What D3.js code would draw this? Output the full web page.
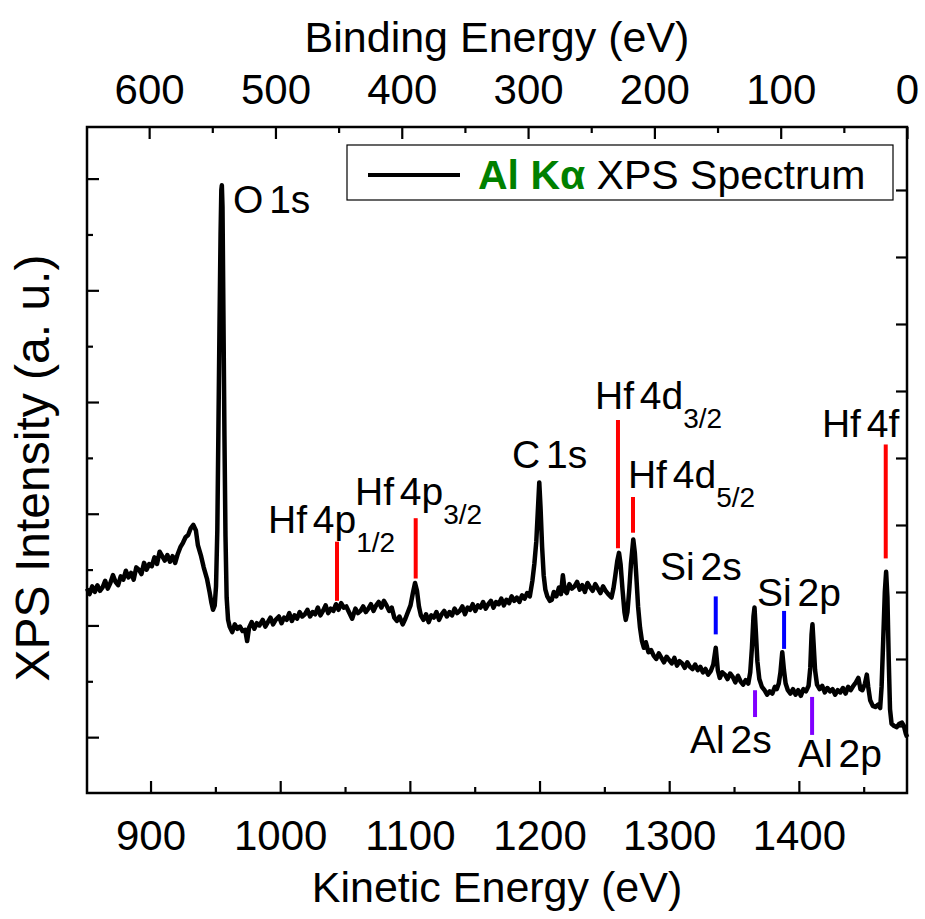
<!DOCTYPE html>
<html><head><meta charset="utf-8">
<script src="https://cdn.jsdelivr.net/npm/d3@7"></script>
<style>
body{margin:0;background:#fff}
text{font-family:"Liberation Sans",Arial,Helvetica,sans-serif;fill:#000}
</style>
</head><body>
<svg id="chart" width="925" height="919"></svg>
<script>
// ---- Data ----
const kineticEnergy = [
 851,853,855,857,859,861,863,865,867,869,871,873,875,877,879,881,883,885,887,889,891,893,895,897,899,901,903,905,907,909,911,913,915,917,919,921,923,925,927,929,931,933,935,
 936.5,939,941,943.5,945.5,947,948.2,949.5,950.5,951.5,952.3,953.2,954.0,954.6,955.0,955.5,956.2,957.0,957.8,958.7,959.8,
 961,963,965,967,969,971,973,974.5,976,978,980,982,984,986.5,988.5,990.5,992.5,994.5,996.5,999,1001,1003,1005,1007,1009,1011,1013,1015,1017,1019,1021,1023,1025,1027,1029,1031,1033,1035,1037,1039,1041,1043,1045,1047,1049,1051,1053,1055.5,1058,1060,1062,1064,1066,1068,1070,1072,1074,1076,1078,1080,1082,1084,1086,1088,1090,1092,1094.5,1096.5,1098.5,1100.5,1102.5,1104,1105.5,1107,1108.5,1110.5,1112.5,1114.5,1116.5,1118.5,1120.5,1122.5,1124.5,1126.5,1128.5,1130.5,1132.5,1134.5,1136.5,1138.5,1140.5,1142.5,1144.5,1146.5,1148.5,1150.5,1152.5,1154.5,1156.5,1158.5,1160.5,1162.5,1164.5,1166.5,1168.5,1170.5,1172.5,1174.5,1176.5,1178.5,1180.5,1182.5,1184.5,1186.5,1188.5,1190.5,1192.5,1194.5,1196,1197.5,1198.8,1199.8,1200.8,1202,1203.2,1204.5,1206,1208,1209.5,1211,1213,1215,1216.5,1218,1219.5,1221,1223,1225,1227,1229,1231,1233,1235,1237,1239,1241,1243,1245,1247,1249,1251,1253,1255.5,1257,1258.5,1260,1261.3,1262.5,1264,1265.5,1266.5,1267.8,1269.2,1270.5,1272.3,1273.5,1274.6,1276,1277.5,1279,1280.5,1282,1284,1286,1288,1290,1292,1294,1296,1298,1300,1302,1304,1306,1308,1310,1312,1314,1316,1318,1320,1322,1324,1326,1328,1330,1332,1334,1335.9,1337.5,1339,1341,1343,1345,1347,1349,1351,1353,1355,1357,1359,1361,1362.5,1363.8,1365,1365.8,1366.8,1368,1369.5,1371.5,1373.5,1375.5,1377.5,1379.5,1381.5,1383,1384.5,1385.8,1387.2,1388.5,1389.8,1391.5,1393.5,1395.5,1397.5,1399.5,1401.5,1403.5,1405.5,1407.5,1408.8,1409.8,1410.5,1411.3,1412.5,1414,1416,1418,1420,1422,1424,1426,1428,1430,1432,1434,1436,1438,1440,1442,1444,1445.9,1447.5,1449,1451,1452.4,1453.5,1455,1457,1459,1461,1462.7,1463.8,1465,1466.3,1467.3,1468.3,1469.3,1470.3,1471.5,1473.5,1475.5,1477.5,1479.5,1481,1482.5,1483.5
];
const intensity = [
 2.33,2.28,2.35,2.30,2.36,2.31,2.34,2.40,2.33,2.38,2.45,2.39,2.36,2.44,2.41,2.49,2.43,2.47,2.41,2.52,2.50,2.46,2.56,2.50,2.55,2.53,2.61,2.55,2.66,2.62,2.58,2.63,2.57,2.62,2.56,2.64,2.70,2.74,2.79,2.81,2.87,2.90,2.85,
 2.72,2.62,2.52,2.42,2.30,2.20,2.14,2.18,2.35,2.85,3.70,4.70,5.50,5.90,5.94,5.75,4.80,3.70,2.80,2.25,2.05,
 1.99,1.94,2.01,1.97,1.99,1.95,1.96,1.86,1.98,2.03,1.97,2.02,2.00,2.05,1.99,2.03,2.07,2.01,2.05,2.08,
 2.02,2.07,2.05,2.11,2.04,2.09,2.06,2.12,2.08,2.10,2.14,2.08,2.12,2.10,2.16,2.09,2.13,2.18,2.11,2.15,2.13,2.19,2.14,2.20,2.16,2.17,2.12,
 2.06,2.15,
 2.11,2.13,2.17,2.12,2.15,2.19,2.13,2.18,2.21,2.16,2.22,2.18,2.13,2.16,2.07,2.04,2.08,
 2.01,2.06,2.12,2.18,2.30,2.38,2.31,2.17,2.09,
 2.05,2.10,2.03,2.09,2.07,2.12,2.05,2.10,2.13,2.08,2.12,2.09,2.15,2.11,2.13,2.17,2.10,2.16,2.14,2.19,2.13,2.18,2.16,2.21,2.15,2.19,2.22,2.16,2.21,2.19,2.24,2.18,2.23,2.20,2.26,2.22,2.25,2.21,2.27,2.24,2.29,2.26,
 2.40,2.55,2.75,3.05,3.28,3.05,2.70,2.45,2.32,2.26,2.22,
 2.23,2.30,2.26,2.34,2.28,2.45,2.31,2.29,2.37,2.33,2.35,2.39,2.32,2.36,2.30,2.38,2.34,2.31,2.37,2.33,2.29,2.35,2.31,2.28,2.25,
 2.33,2.45,2.58,2.65,2.55,2.32,2.12,2.05,2.12,2.32,2.55,2.77,2.65,2.45,2.17,1.98,1.86,
 1.80,1.85,1.76,1.78,1.73,1.70,1.75,1.71,1.67,1.72,1.69,1.66,1.71,1.64,1.68,1.66,1.62,1.67,1.63,1.61,1.65,1.60,1.63,1.58,1.61,1.56,1.59,1.65,
 1.80,
 1.60,1.53,1.58,1.56,1.52,1.57,1.54,1.49,1.55,1.50,1.47,1.51,1.48,
 1.58,1.80,2.08,2.16,1.95,1.68,1.52,1.45,1.42,1.38,1.41,1.39,1.45,1.43,1.48,1.58,1.76,1.60,1.48,1.42,1.39,1.43,1.38,1.42,1.37,1.43,1.41,1.46,1.62,1.92,2.01,1.85,1.60,1.47,1.43,1.46,1.40,1.44,1.41,1.43,1.38,1.42,1.40,1.44,1.39,1.45,1.42,1.46,1.49,1.53,1.43,1.42,1.48,1.56,1.45,1.33,1.28,1.27,1.29,1.26,1.45,1.85,2.30,2.48,2.25,1.70,1.25,1.12,1.10,1.09,1.12,1.13,1.10,1.03,1.00
];

const bottomTicks = [900, 1000, 1100, 1200, 1300, 1400];
const bottomMinorTicks = [950, 1050, 1150, 1250, 1350, 1450];
const topTicks = [600, 500, 400, 300, 200, 100, 0];
const topMinorTicks = [550, 450, 350, 250, 150, 50];
const leftTicks = [1, 2, 3, 4, 5, 6];
const leftMinorTicks = [1.5, 2.5, 3.5, 4.5, 5.5];
const rightTicks = [1, 2, 3, 4, 5, 6, 7, 8, 9];

// peak marker bars
const markerKE = [1043.8, 1104.5, 1260.5, 1272.1, 1335.9, 1388.6, 1366.2, 1410.2, 1467.0];
const markerTop = [2.75, 2.96, 3.84, 3.15, 2.26, 2.13, 1.42, 1.36, 3.62];
const markerBottom = [2.22, 2.42, 2.69, 2.83, 1.92, 1.79, 1.18, 1.02, 2.60];
const markerElement = ["Hf", "Hf", "Hf", "Hf", "Si", "Si", "Al", "Al", "Hf"];

// peak labels
const labelMain = ["O 1s", "Hf 4p", "Hf 4p", "C 1s", "Hf 4d", "Hf 4d", "Si 2s", "Si 2p", "Al 2s", "Al 2p", "Hf 4f"];
const labelSub = ["", "1/2", "3/2", "", "3/2", "5/2", "", "", "", "", ""];
const labelKE = [963.6, 990.6, 1057.7, 1178.8, 1242.8, 1268.2, 1292.9, 1367.7, 1316.0, 1399.3, 1417.8];
const labelI = [5.69, 2.83, 3.08, 3.41, 3.94, 3.23, 2.41, 2.17, 0.86, 0.73, 3.69];

// ---- Layout ----
const L = 87, R = 907, T = 127, B = 793;
const svg = d3.select("#chart");
const colorOf = {Hf: "#ff0000", Si: "#0000ff", Al: "#8000ff"};

const x = d3.scaleLinear().domain([851, 1483.4]).range([L, R]);
const xTop = d3.scaleLinear().domain([649.2, 0]).range([L, R]);
const y = d3.scaleLinear().domain([0.5, 6.462]).range([B, T]);
const yRight = d3.scaleLinear().domain([0, 9.94]).range([B, T]);

function styleAxis(g) {
  g.select(".domain").remove();
  g.selectAll(".tick line").attr("stroke", "#000").attr("stroke-width", 2.2);
}
const FONT = "Liberation Sans, Arial, sans-serif";

// bottom axis
svg.append("g").attr("transform", `translate(0,${B})`)
  .call(d3.axisBottom(x).tickValues(bottomTicks).tickSize(-12).tickFormat(d3.format("d")))
  .call(styleAxis)
  .call(g => g.selectAll("text").attr("dy", null).attr("y", 57)
      .attr("font-size", 42).attr("font-family", FONT).attr("fill", "#000"));
svg.append("g").attr("transform", `translate(0,${B})`)
  .call(d3.axisBottom(x).tickValues(bottomMinorTicks).tickSize(-6).tickFormat(""))
  .call(styleAxis);

// top axis
svg.append("g").attr("transform", `translate(0,${T})`)
  .call(d3.axisTop(xTop).tickValues(topTicks).tickSize(-12).tickFormat(d3.format("d")))
  .call(styleAxis)
  .call(g => g.selectAll("text").attr("dy", null).attr("y", -23)
      .attr("font-size", 42).attr("font-family", FONT).attr("fill", "#000"));
svg.append("g").attr("transform", `translate(0,${T})`)
  .call(d3.axisTop(xTop).tickValues(topMinorTicks).tickSize(-6).tickFormat(""))
  .call(styleAxis);

// left axis
svg.append("g").attr("transform", `translate(${L},0)`)
  .call(d3.axisLeft(y).tickValues(leftTicks).tickSize(-12).tickFormat(""))
  .call(styleAxis);
svg.append("g").attr("transform", `translate(${L},0)`)
  .call(d3.axisLeft(y).tickValues(leftMinorTicks).tickSize(-6).tickFormat(""))
  .call(styleAxis);

// right axis
svg.append("g").attr("transform", `translate(${R},0)`)
  .call(d3.axisRight(yRight).tickValues(rightTicks).tickSize(-11).tickFormat(""))
  .call(styleAxis);

// spectrum
const pts = kineticEnergy.map((k, i) => [k, intensity[i]]);
svg.append("path").datum(pts)
  .attr("fill", "none").attr("stroke", "#000").attr("stroke-width", 4.5)
  .attr("stroke-linejoin", "round")
  .attr("d", d3.line().x(d => x(d[0])).y(d => y(d[1])));

// marker bars
svg.append("g").selectAll("line").data(markerKE).join("line")
  .attr("x1", d => x(d)).attr("x2", d => x(d))
  .attr("y1", (d, i) => y(markerTop[i])).attr("y2", (d, i) => y(markerBottom[i]))
  .attr("stroke", (d, i) => colorOf[markerElement[i]]).attr("stroke-width", 4);

// frame
svg.append("rect").attr("x", L).attr("y", T).attr("width", R - L).attr("height", B - T)
  .attr("fill", "none").attr("stroke", "#000").attr("stroke-width", 2.5);

// peak labels
const lab = svg.append("g").selectAll("text").data(labelMain).join("text")
  .attr("x", (d, i) => x(labelKE[i])).attr("y", (d, i) => y(labelI[i]))
  .attr("font-size", 39).attr("word-spacing", -5);
lab.each(function(d, i) {
  const t = d3.select(this);
  t.append("tspan").text(d);
  if (labelSub[i] !== "") t.append("tspan").attr("font-size", 28).attr("dy", 19).text(labelSub[i]);
});

// axis titles
svg.append("text").attr("x", 497).attr("y", 52).attr("text-anchor", "middle")
  .attr("font-size", 43).text("Binding Energy (eV)");
svg.append("text").attr("x", 497).attr("y", 902).attr("text-anchor", "middle")
  .attr("font-size", 43).text("Kinetic Energy (eV)");
svg.append("text").attr("transform", "translate(49,468) rotate(-90)").attr("text-anchor", "middle")
  .attr("font-size", 48).text("XPS Intensity (a. u.)");

// legend
const lg = svg.append("g");
lg.append("rect").attr("x", 347).attr("y", 145).attr("width", 546).attr("height", 55)
  .attr("fill", "#fff").attr("stroke", "#000").attr("stroke-width", 1.2);
lg.append("line").attr("x1", 368).attr("x2", 460).attr("y1", 175).attr("y2", 175)
  .attr("stroke", "#000").attr("stroke-width", 4);
const lt = lg.append("text").attr("x", 478).attr("y", 189).attr("font-size", 41);
lt.append("tspan").attr("font-weight", "bold").style("fill", "#008000").text("Al K");
lt.append("tspan").attr("font-weight", "bold").style("fill", "#008000").text("α");
lt.append("tspan").text(" XPS Spectrum");
</script>
</body></html>
